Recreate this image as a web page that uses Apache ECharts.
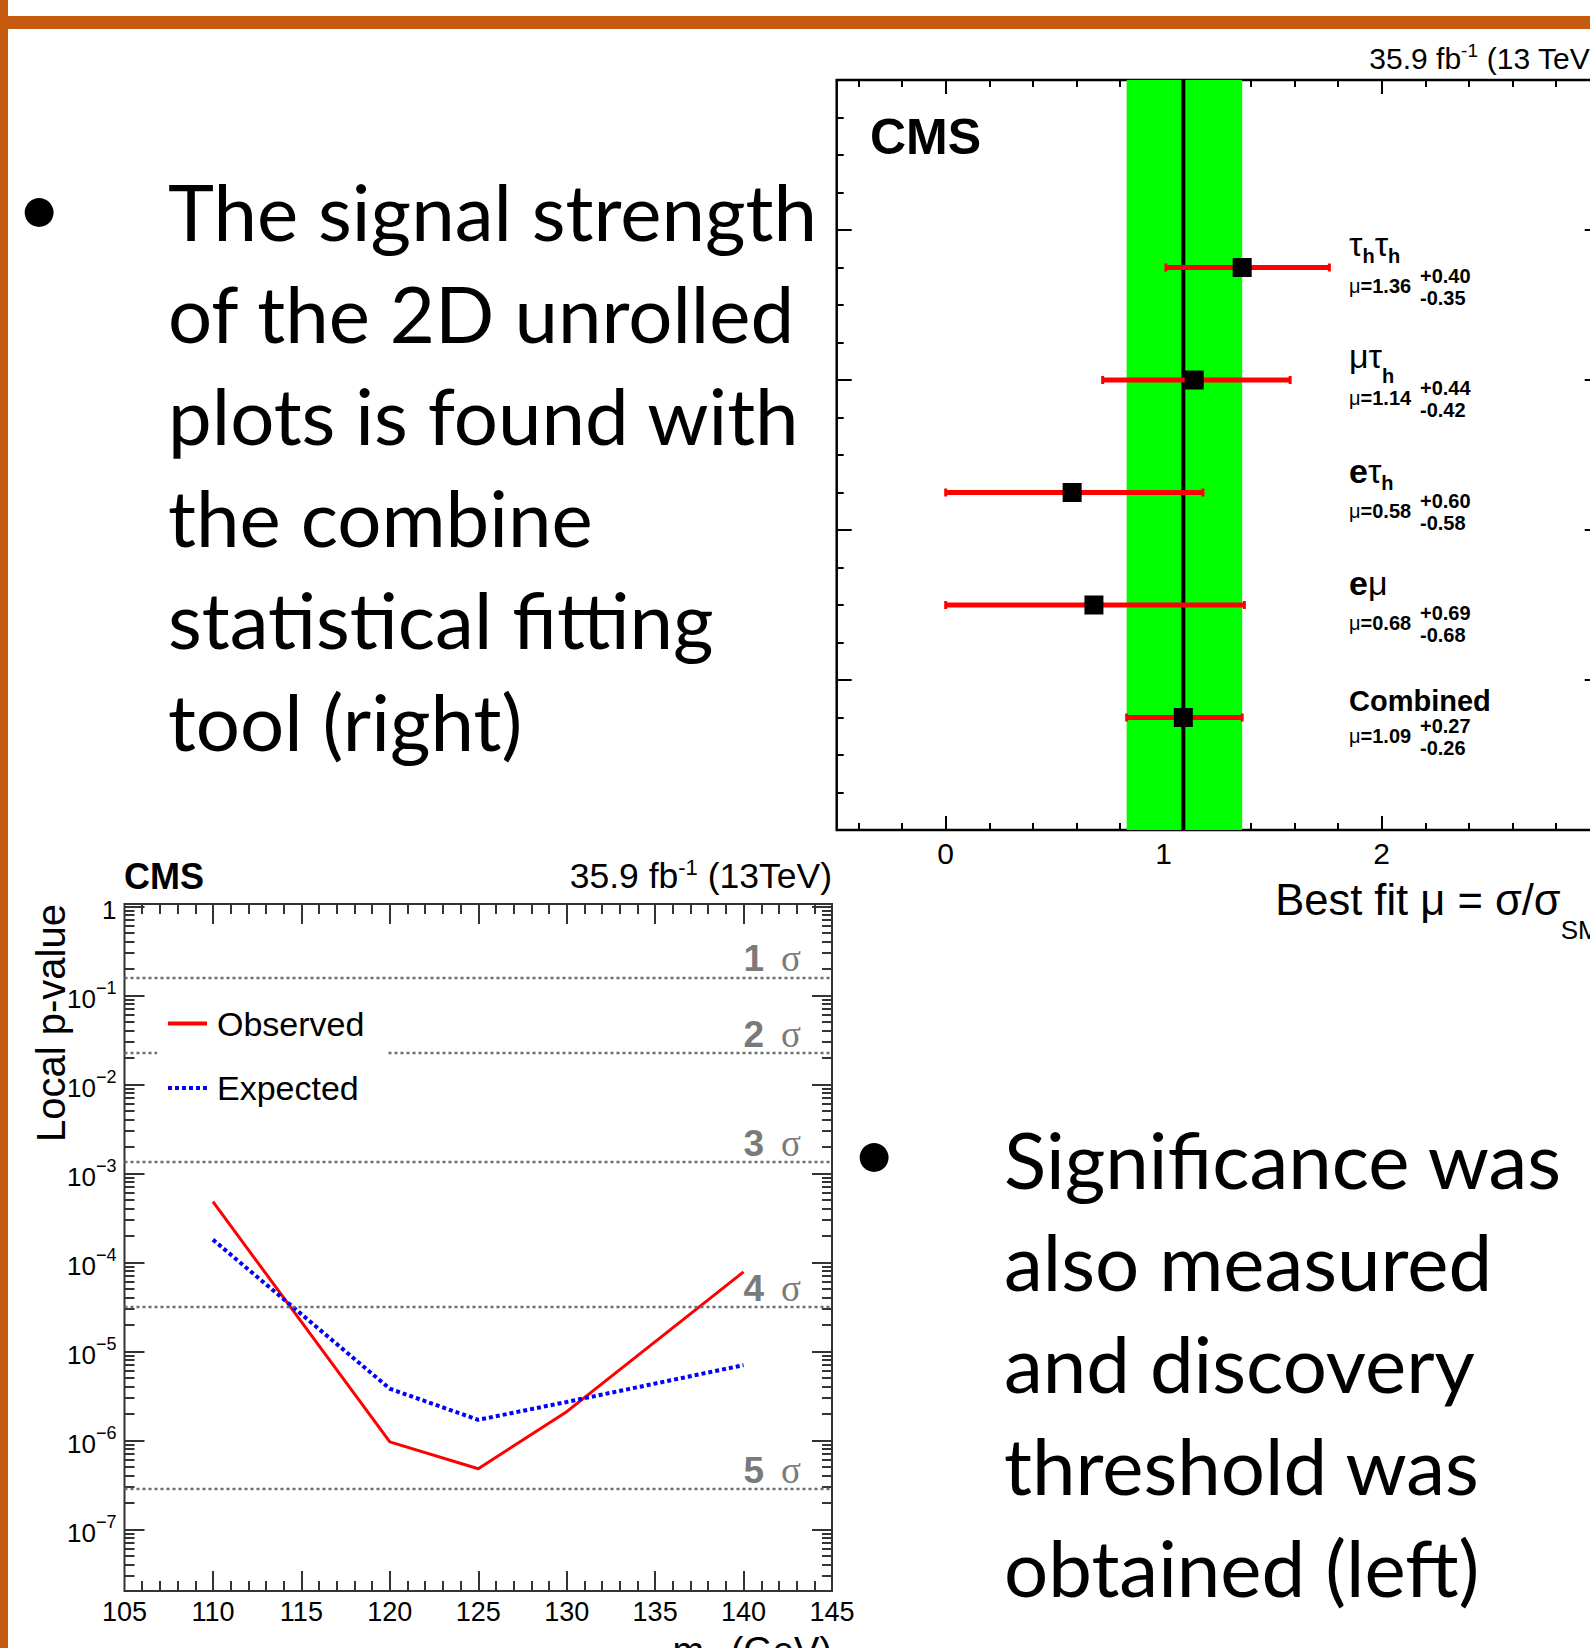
<!DOCTYPE html>
<html>
<head>
<meta charset="utf-8">
<title>CMS signal strength and local p-value</title>
<script src="https://cdn.jsdelivr.net/npm/echarts@6/dist/echarts.min.js"></script>
<style>
html, body { margin:0; padding:0; background:#ffffff; }
#chart { width:1590px; height:1648px; }
</style>
</head>
<body>
<div id="chart"></div>
<script>
// ---------- Top-right panel: best-fit signal strength per channel ----------
const channelLabels = ['{g|τ}{s|h}{g|τ}{s|h}', '{g|μτ}{s2|h}', '{e|e}{g|τ}{s|h}', '{e|e}{g|μ}', '{c|Combined}'];
const muBestFit = [1.36, 1.14, 0.58, 0.68, 1.09];
const muErrUp   = [0.40, 0.44, 0.60, 0.69, 0.27];
const muErrDown = [0.35, 0.42, 0.58, 0.68, 0.26];
const muTickLabels = [0, 1, 2];

// ---------- Bottom-left panel: local p-value vs m_H ----------
const massValues = [110, 120, 125, 130, 140];
const pObserved  = [4.8e-4, 9.6e-7, 4.8e-7, 2.1e-6, 7.8e-5];
const pExpected  = [1.8e-4, 3.8e-6, 1.7e-6, 2.7e-6, 7.0e-6];
const sigmaLevels  = [1, 2, 3, 4, 5];
const sigmaPValues = [0.1587, 0.02275, 0.00135, 3.17e-5, 2.87e-7];
const massTickLabels = [105, 110, 115, 120, 125, 130, 135, 140, 145];
const pTickLabels = [1e-7, 1e-6, 1e-5, 1e-4, 1e-3, 1e-2, 1e-1, 1];

// ---------- Slide text ----------
const bulletLeft  = ['The signal strength', 'of the 2D unrolled', 'plots is found with', 'the combine', 'statistical fitting', 'tool (right)'];
const bulletRight = ['Significance was', 'also measured', 'and discovery', 'threshold was', 'obtained (left)'];

// ---------- layout / style constants ----------
const F = 'Liberation Sans, Arial, sans-serif';
const FSER = 'Liberation Serif, serif';
const FS = 'Lato, sans-serif';
const ORANGE = '#C55A11';
const MU_MIN = -0.5, MU_MAX = 3.0, Y0_MIN = 0, Y0_MAX = 5, SLOT = 0.75, LABEL_X = 1.85;
const M_MIN = 105, M_MAX = 145, P_MIN = 2.03e-8, P_MAX = 1.061;

const nChan = channelLabels.length;
const slotY = i => (nChan - i) * SLOT;
const iComb = nChan - 1;

// tick value lists (axis decoration)
const muMinor = []; for (let k = -2; k <= 14; k++) if (k % 5 !== 0) muMinor.push(Math.round(k * 20) / 100);
const y0Major = [1, 2, 3, 4];
const y0Minor = []; for (let k = 1; k < 20; k++) if (k % 4 !== 0) y0Minor.push(k / 4);
const massMajor = massTickLabels.slice(1, -1);
const massMinor = []; for (let m = 106; m < 145; m++) if (m % 5 !== 0) massMinor.push(m);
const pMinor = [];
for (let e = -8; e <= -1; e++) for (let k = 2; k <= 9; k++) {
  const v = Number((k * Math.pow(10, e)).toPrecision(2));
  if (v > P_MIN && v < P_MAX) pMinor.push(v);
}

function tickAxis(gridIndex, position, min, max, type, values, length, color, extra) {
  return Object.assign({
    type: type, gridIndex: gridIndex, position: position, min: min, max: max,
    axisLine: { show: false, onZero: false },
    splitLine: { show: false }, splitArea: { show: false },
    axisTick: { show: true, inside: true, length: length, customValues: values, lineStyle: { color: color, width: 2 } },
    axisLabel: { show: false },
    nameMoveOverlap: false,
    silent: true
  }, extra || {});
}

const NAME_RICH = {
  g:  { fontSize: 34, fontFamily: F, fill: '#000' },
  e:  { fontSize: 34, fontFamily: F, fontWeight: 'bold', fill: '#000' },
  s:  { fontSize: 20, fontFamily: F, fontWeight: 'bold', fill: '#000', padding: [24, 0, 0, 0] },
  s2: { fontSize: 20, fontFamily: F, fontWeight: 'bold', fill: '#000', padding: [40, 0, 0, 0] },
  c:  { fontSize: 29, fontFamily: F, fontWeight: 'bold', fill: '#000' }
};
const NAME_DY = [-24, -24, -22, -22, -17];

function txt(x, y, text, st) {
  const style = Object.assign({ text: text, fill: '#000', fontFamily: F }, st);
  if (style.align) style.textAlign = style.align;
  if (style.verticalAlign) style.textVerticalAlign = style.verticalAlign;
  return { type: 'text', x: x, y: y, style: style };
}

const DOTTED_ICON = 'path://M0,0h4v4h-4z M7,0h4v4h-4z M14,0h4v4h-4z M21,0h4v4h-4z M28,0h4v4h-4z M35,0h4v4h-4z';

const chart = echarts.init(document.getElementById('chart'), null, { renderer: 'svg', width: 1590, height: 1648 });

const option = {
  animation: false,
  backgroundColor: '#ffffff',
  grid: [
    { left: 836.7, top: 80, width: 763, height: 750, containLabel: false, outerBoundsMode: 'none',
      show: true, borderColor: '#000', borderWidth: 2.5, backgroundColor: 'transparent' },
    { left: 124.5, top: 904, width: 707.5, height: 687, containLabel: false, outerBoundsMode: 'none',
      show: true, borderColor: '#333', borderWidth: 2, backgroundColor: 'transparent' }
  ],
  xAxis: [
    tickAxis(0, 'bottom', MU_MIN, MU_MAX, 'value', muTickLabels, 14, '#000', {
      axisLabel: { show: true, customValues: muTickLabels, margin: 8, fontSize: 30, fontFamily: F, color: '#000' },
      name: '{n|Best fit μ = σ/σ}{sub|SM}', nameLocation: 'end', nameGap: 0,
      nameTextStyle: { align: 'right', verticalAlign: 'top', padding: [47.5, 0, 0, 0],
        rich: { n: { fontSize: 43.5, fontFamily: F, color: '#000', padding: [0, 0, 30, 0] },
                sub: { fontSize: 26, fontFamily: F, color: '#000', padding: [30, 0, 0, 0] } } }
    }),
    tickAxis(0, 'bottom', MU_MIN, MU_MAX, 'value', muMinor, 7, '#000'),
    tickAxis(0, 'top', MU_MIN, MU_MAX, 'value', muTickLabels, 14, '#000'),
    tickAxis(0, 'top', MU_MIN, MU_MAX, 'value', muMinor, 7, '#000'),
    tickAxis(1, 'bottom', M_MIN, M_MAX, 'value', massMajor, 20, '#333', {
      axisLabel: { show: true, customValues: massTickLabels, margin: 7, fontSize: 27, fontFamily: F, color: '#000', showMinLabel: true, showMaxLabel: true },
      name: '{n|m}{sub|H}{n| (GeV)}', nameLocation: 'end', nameGap: 0,
      nameTextStyle: { align: 'right', verticalAlign: 'top', padding: [37, 0, 0, 0],
        rich: { n: { fontSize: 38, fontFamily: F, color: '#000' },
                sub: { fontSize: 22, fontFamily: F, color: '#000', padding: [24, 0, 0, 0] } } }
    }),
    tickAxis(1, 'bottom', M_MIN, M_MAX, 'value', massMinor, 10, '#333'),
    tickAxis(1, 'top', M_MIN, M_MAX, 'value', massMajor, 20, '#333'),
    tickAxis(1, 'top', M_MIN, M_MAX, 'value', massMinor, 10, '#333')
  ],
  yAxis: [
    tickAxis(0, 'left', Y0_MIN, Y0_MAX, 'value', y0Major, 15, '#000'),
    tickAxis(0, 'left', Y0_MIN, Y0_MAX, 'value', y0Minor, 7, '#000'),
    tickAxis(0, 'right', Y0_MIN, Y0_MAX, 'value', y0Major, 15, '#000'),
    tickAxis(0, 'right', Y0_MIN, Y0_MAX, 'value', y0Minor, 7, '#000'),
    tickAxis(1, 'left', P_MIN, P_MAX, 'log', pTickLabels, 20, '#333', {
      axisLabel: { show: true, customValues: pTickLabels, margin: 8, showMinLabel: true, showMaxLabel: true,
        formatter: function (v) {
          const e = Math.round(Math.log10(v));
          return e === 0 ? '{b|1}' : '{b|10}{s|−' + (-e) + '}';
        },
        rich: { b: { fontSize: 26, fontFamily: F, color: '#000', padding: [8, 0, 0, 0] },
                s: { fontSize: 18, fontFamily: F, color: '#000', padding: [0, 0, 14, 0] } } },
      name: 'Local p-value', nameLocation: 'end', nameGap: 0, nameRotate: 90,
      nameTextStyle: { fontSize: 40, fontFamily: F, color: '#000', align: 'right', verticalAlign: 'bottom', padding: [0, 0, 54, 0] }
    }),
    tickAxis(1, 'left', P_MIN, P_MAX, 'log', pMinor, 10, '#333'),
    tickAxis(1, 'right', P_MIN, P_MAX, 'log', pTickLabels, 20, '#333'),
    tickAxis(1, 'right', P_MIN, P_MAX, 'log', pMinor, 10, '#333')
  ],
  legend: {
    data: [{ name: 'Observed', icon: 'rect' }, { name: 'Expected', icon: DOTTED_ICON }],
    orient: 'vertical', left: 157, top: 991.5,
    itemWidth: 39, itemHeight: 4, itemGap: 24.5, padding: [12, 22, 12, 11],
    backgroundColor: '#ffffff', selectedMode: false, z: 10,
    textStyle: { fontSize: 34, fontFamily: F, color: '#000', lineHeight: 40, padding: [0, 0, 0, 5] }
  },
  series: [
    { // combined uncertainty band
      type: 'custom', name: 'band', xAxisIndex: 0, yAxisIndex: 0, z: 1, silent: true,
      data: [[muBestFit[iComb] - muErrDown[iComb], muBestFit[iComb] + muErrUp[iComb]]],
      encode: { x: [0, 1] },
      renderItem: function (params, api) {
        const a = api.coord([api.value(0), Y0_MAX]);
        const b = api.coord([api.value(1), Y0_MIN]);
        return { type: 'rect', shape: { x: a[0], y: a[1], width: b[0] - a[0], height: b[1] - a[1] }, style: { fill: '#00ff00' } };
      }
    },
    { // combined best-fit line
      type: 'custom', name: 'combined', xAxisIndex: 0, yAxisIndex: 0, z: 2, silent: true,
      data: [[muBestFit[iComb], Y0_MIN]],
      renderItem: function (params, api) {
        const a = api.coord([api.value(0), Y0_MIN]);
        const b = api.coord([api.value(0), Y0_MAX]);
        return { type: 'line', shape: { x1: a[0], y1: a[1], x2: b[0], y2: b[1] }, style: { stroke: '#000', lineWidth: 4 } };
      }
    },
    { // error bars
      type: 'custom', name: 'errors', xAxisIndex: 0, yAxisIndex: 0, z: 3, silent: true,
      data: muBestFit.map((m, i) => [m - muErrDown[i], m + muErrUp[i], slotY(i)]),
      encode: { x: [0, 1], y: 2 },
      renderItem: function (params, api) {
        const lo = api.coord([api.value(0), api.value(2)]);
        const hi = api.coord([api.value(1), api.value(2)]);
        return { type: 'group', children: [
          { type: 'line', shape: { x1: lo[0], y1: lo[1], x2: hi[0], y2: hi[1] }, style: { stroke: '#ff0000', lineWidth: 5 } },
          { type: 'rect', shape: { x: lo[0] - 1.5, y: lo[1] - 4, width: 3, height: 8 }, style: { fill: '#ff0000' } },
          { type: 'rect', shape: { x: hi[0] - 1.5, y: hi[1] - 4, width: 3, height: 8 }, style: { fill: '#ff0000' } }
        ] };
      }
    },
    { // best-fit markers
      type: 'scatter', name: 'best fit', xAxisIndex: 0, yAxisIndex: 0, z: 4, silent: true,
      symbol: 'rect', symbolSize: 19, itemStyle: { color: '#000', opacity: 1 },
      data: muBestFit.map((m, i) => [m, slotY(i)])
    },
    { // channel annotations
      type: 'custom', name: 'annotations', xAxisIndex: 0, yAxisIndex: 0, z: 5, silent: true,
      data: muBestFit.map((m, i) => [LABEL_X, slotY(i), i]),
      encode: { x: 0, y: 1 },
      renderItem: function (params, api) {
        const i = api.value(2);
        const p = api.coord([api.value(0), api.value(1)]);
        const x = p[0], y = p[1];
        return { type: 'group', children: [
          txt(x, y + NAME_DY[i], channelLabels[i], { align: 'left', verticalAlign: 'middle', rich: NAME_RICH }),
          txt(x, y + 18, '{m|μ}{b|=' + muBestFit[i].toFixed(2) + '}', { align: 'left', verticalAlign: 'middle',
            rich: { m: { fontSize: 20, fontFamily: F, fill: '#000' }, b: { fontSize: 20, fontFamily: F, fontWeight: 'bold', fill: '#000' } } }),
          txt(x + 71, y + 8, '+' + muErrUp[i].toFixed(2), { fontSize: 20, fontWeight: 'bold', align: 'left', verticalAlign: 'middle' }),
          txt(x + 71, y + 30, '-' + muErrDown[i].toFixed(2), { fontSize: 20, fontWeight: 'bold', align: 'left', verticalAlign: 'middle' })
        ] };
      }
    },
    {
      type: 'line', name: 'Observed', xAxisIndex: 4, yAxisIndex: 4, z: 3,
      data: massValues.map((m, i) => [m, pObserved[i]]),
      symbol: 'none', showSymbol: false, silent: true,
      lineStyle: { color: '#ff0000', width: 3 }, itemStyle: { color: '#ff0000' },
      markLine: {
        silent: true, symbol: 'none', animation: false, precision: 12,
        lineStyle: { color: '#6e6e6e', width: 2.4, type: [3, 3] },
        label: { show: true, position: 'insideEndTop', distance: [31, 0],
          formatter: function (p) { return '{n|' + p.name + '}{s|σ}'; },
          rich: { n: { fontSize: 37, fontFamily: F, fontWeight: 'bold', color: '#7a7a7a', lineHeight: 37 },
                  s: { fontSize: 37, fontFamily: FSER, color: '#7a7a7a', lineHeight: 37, padding: [0, 0, 0, 17] } } },
        emphasis: { disabled: true },
        data: sigmaPValues.map((p, i) => ({ yAxis: p, name: String(sigmaLevels[i]) }))
      }
    },
    {
      type: 'line', name: 'Expected', xAxisIndex: 4, yAxisIndex: 4, z: 3,
      data: massValues.map((m, i) => [m, pExpected[i]]),
      symbol: 'none', showSymbol: false, silent: true,
      lineStyle: { color: '#0000ff', width: 4, type: [4, 3], cap: 'butt' }, itemStyle: { color: '#0000ff' }
    }
  ],
  graphic: [
    { type: 'rect', z: 100, silent: true, shape: { x: 0, y: 16, width: 1590, height: 13 }, style: { fill: ORANGE } },
    { type: 'rect', z: 100, silent: true, shape: { x: 0, y: 0, width: 8, height: 1648 }, style: { fill: ORANGE } },
    // slide bullets
    Object.assign(txt(39, 206, '•', { fontFamily: FS, fontSize: 78, align: 'center', verticalAlign: 'middle' }), { z: 50 }),
    Object.assign(txt(168, 159.8, bulletLeft.join('\n'), { fontFamily: FS, fontSize: 78, lineHeight: 102, align: 'left', verticalAlign: 'top' }), { z: 50 }),
    Object.assign(txt(874, 1151, '•', { fontFamily: FS, fontSize: 78, align: 'center', verticalAlign: 'middle' }), { z: 50 }),
    Object.assign(txt(1004, 1107.8, bulletRight.join('\n'), { fontFamily: FS, fontSize: 78, lineHeight: 102, align: 'left', verticalAlign: 'top' }), { z: 50 }),
    // top-right panel headers
    Object.assign(txt(870, 137, 'CMS', { fontSize: 50, fontWeight: 'bold', align: 'left', verticalAlign: 'middle' }), { z: 50 }),
    Object.assign(txt(1599.7, 58, '35.9 fb{sup|-1} (13 TeV)', { fontSize: 30, align: 'right', verticalAlign: 'middle',
      rich: { sup: { fontSize: 19, fontFamily: F, fill: '#000', padding: [0, 0, 16, 0] } } }), { z: 50 }),
    // bottom-left panel headers
    Object.assign(txt(124, 876, 'CMS', { fontSize: 36, fontWeight: 'bold', align: 'left', verticalAlign: 'middle' }), { z: 50 }),
    Object.assign(txt(832, 876, '35.9 fb{sup|-1} (13TeV)', { fontSize: 35.5, align: 'right', verticalAlign: 'middle',
      rich: { sup: { fontSize: 22, fontFamily: F, fill: '#000', padding: [0, 0, 18, 0] } } }), { z: 50 })
  ]
};

chart.setOption(option);
</script>
</body>
</html>
